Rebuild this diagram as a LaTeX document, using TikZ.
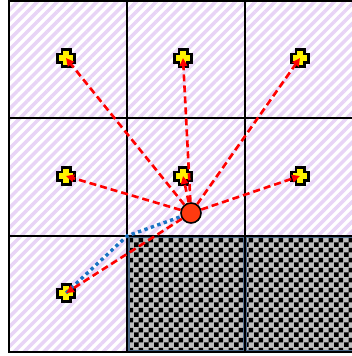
\documentclass[tikz,border=0pt]{standalone}
\usetikzlibrary{patterns.meta,arrows.meta}

\definecolor{hatchpurple}{HTML}{E8D4F6}
\definecolor{wallblue}{HTML}{4E6A8A}
\definecolor{pathblue}{HTML}{1A73C4}
\definecolor{agentred}{HTML}{FF3A10}
\definecolor{checkgray}{HTML}{BEBEBE}

\pgfdeclarepatternformonly{bigchecker}{\pgfpointorigin}{\pgfqpoint{9.6pt}{9.6pt}}{\pgfqpoint{9.6pt}{9.6pt}}{%
  \pgfpathrectangle{\pgfpointorigin}{\pgfqpoint{4.8pt}{4.8pt}}%
  \pgfpathrectangle{\pgfqpoint{4.8pt}{4.8pt}}{\pgfqpoint{4.8pt}{4.8pt}}%
  \pgfusepath{fill}}

\begin{document}
\begin{tikzpicture}[x=1pt,y=-1pt,
    target/.style={inner sep=0pt,minimum size=0pt},
    agent/.style={circle,draw=black,line width=1.6pt,fill=agentred,minimum size=20pt,inner sep=0pt},
    move/.style={red,line width=2.6pt,dash pattern=on 7pt off 4pt,-{Triangle[length=8pt,width=7.5pt]}},
    route/.style={pathblue,line width=3.4pt,dash pattern=on 3.4pt off 3.4pt}]

\useasboundingbox (0,0) rectangle (352,356);
\clip (0,0) rectangle (352,356);

% free cells
\fill[white] (9,1) rectangle (363,352);
\fill[pattern={Lines[angle=45,distance=7pt,line width=3.5pt]},pattern color=hatchpurple] (9,1) rectangle (363,352);

% blocked cells
\fill[checkgray] (127,236) rectangle (363,352);
\fill[pattern=bigchecker,pattern color=black] (127,236) rectangle (363,352);
\draw[wallblue,line width=2pt] (128.5,237) rectangle (244,351);
\draw[wallblue,line width=2pt] (246,237) rectangle (362,351);

% grid
\draw[line width=1.4pt] (127,1) -- (127,352) (245,1) -- (245,352);
\draw[line width=1.4pt] (9,118) -- (363,118) (9,236) -- (363,236);
\draw[line width=1.8pt] (9,1) rectangle (363,352);

% neighbour cells
\node[target] (a) at (66,58) {};
\node[target] (b) at (183,58) {};
\node[target] (c) at (300,58) {};
\node[target] (d) at (66,176) {};
\node[target] (e) at (183,176) {};
\node[target] (f) at (300,176) {};
\node[target] (g) at (66,293) {};

\foreach \n in {a,b,c,d,e,f,g} {
  \draw[line width=11pt] ([xshift=-10pt]\n.center) -- ([xshift=10pt]\n.center)
    ([yshift=-10pt]\n.center) -- ([yshift=10pt]\n.center);
  \draw[yellow,line width=5.5pt] ([xshift=-7pt]\n.center) -- ([xshift=7pt]\n.center)
    ([yshift=-7pt]\n.center) -- ([yshift=7pt]\n.center);
}

% agent
\node[agent] (robot) at (191,213) {};
\coordinate (corner) at (127,236);

\draw[route] (g.center) -- (corner) -- (robot);

\foreach \n in {a,b,c,d,e,f,g}
  \draw[move] (robot) -- (\n.center);

\end{tikzpicture}
\end{document}
